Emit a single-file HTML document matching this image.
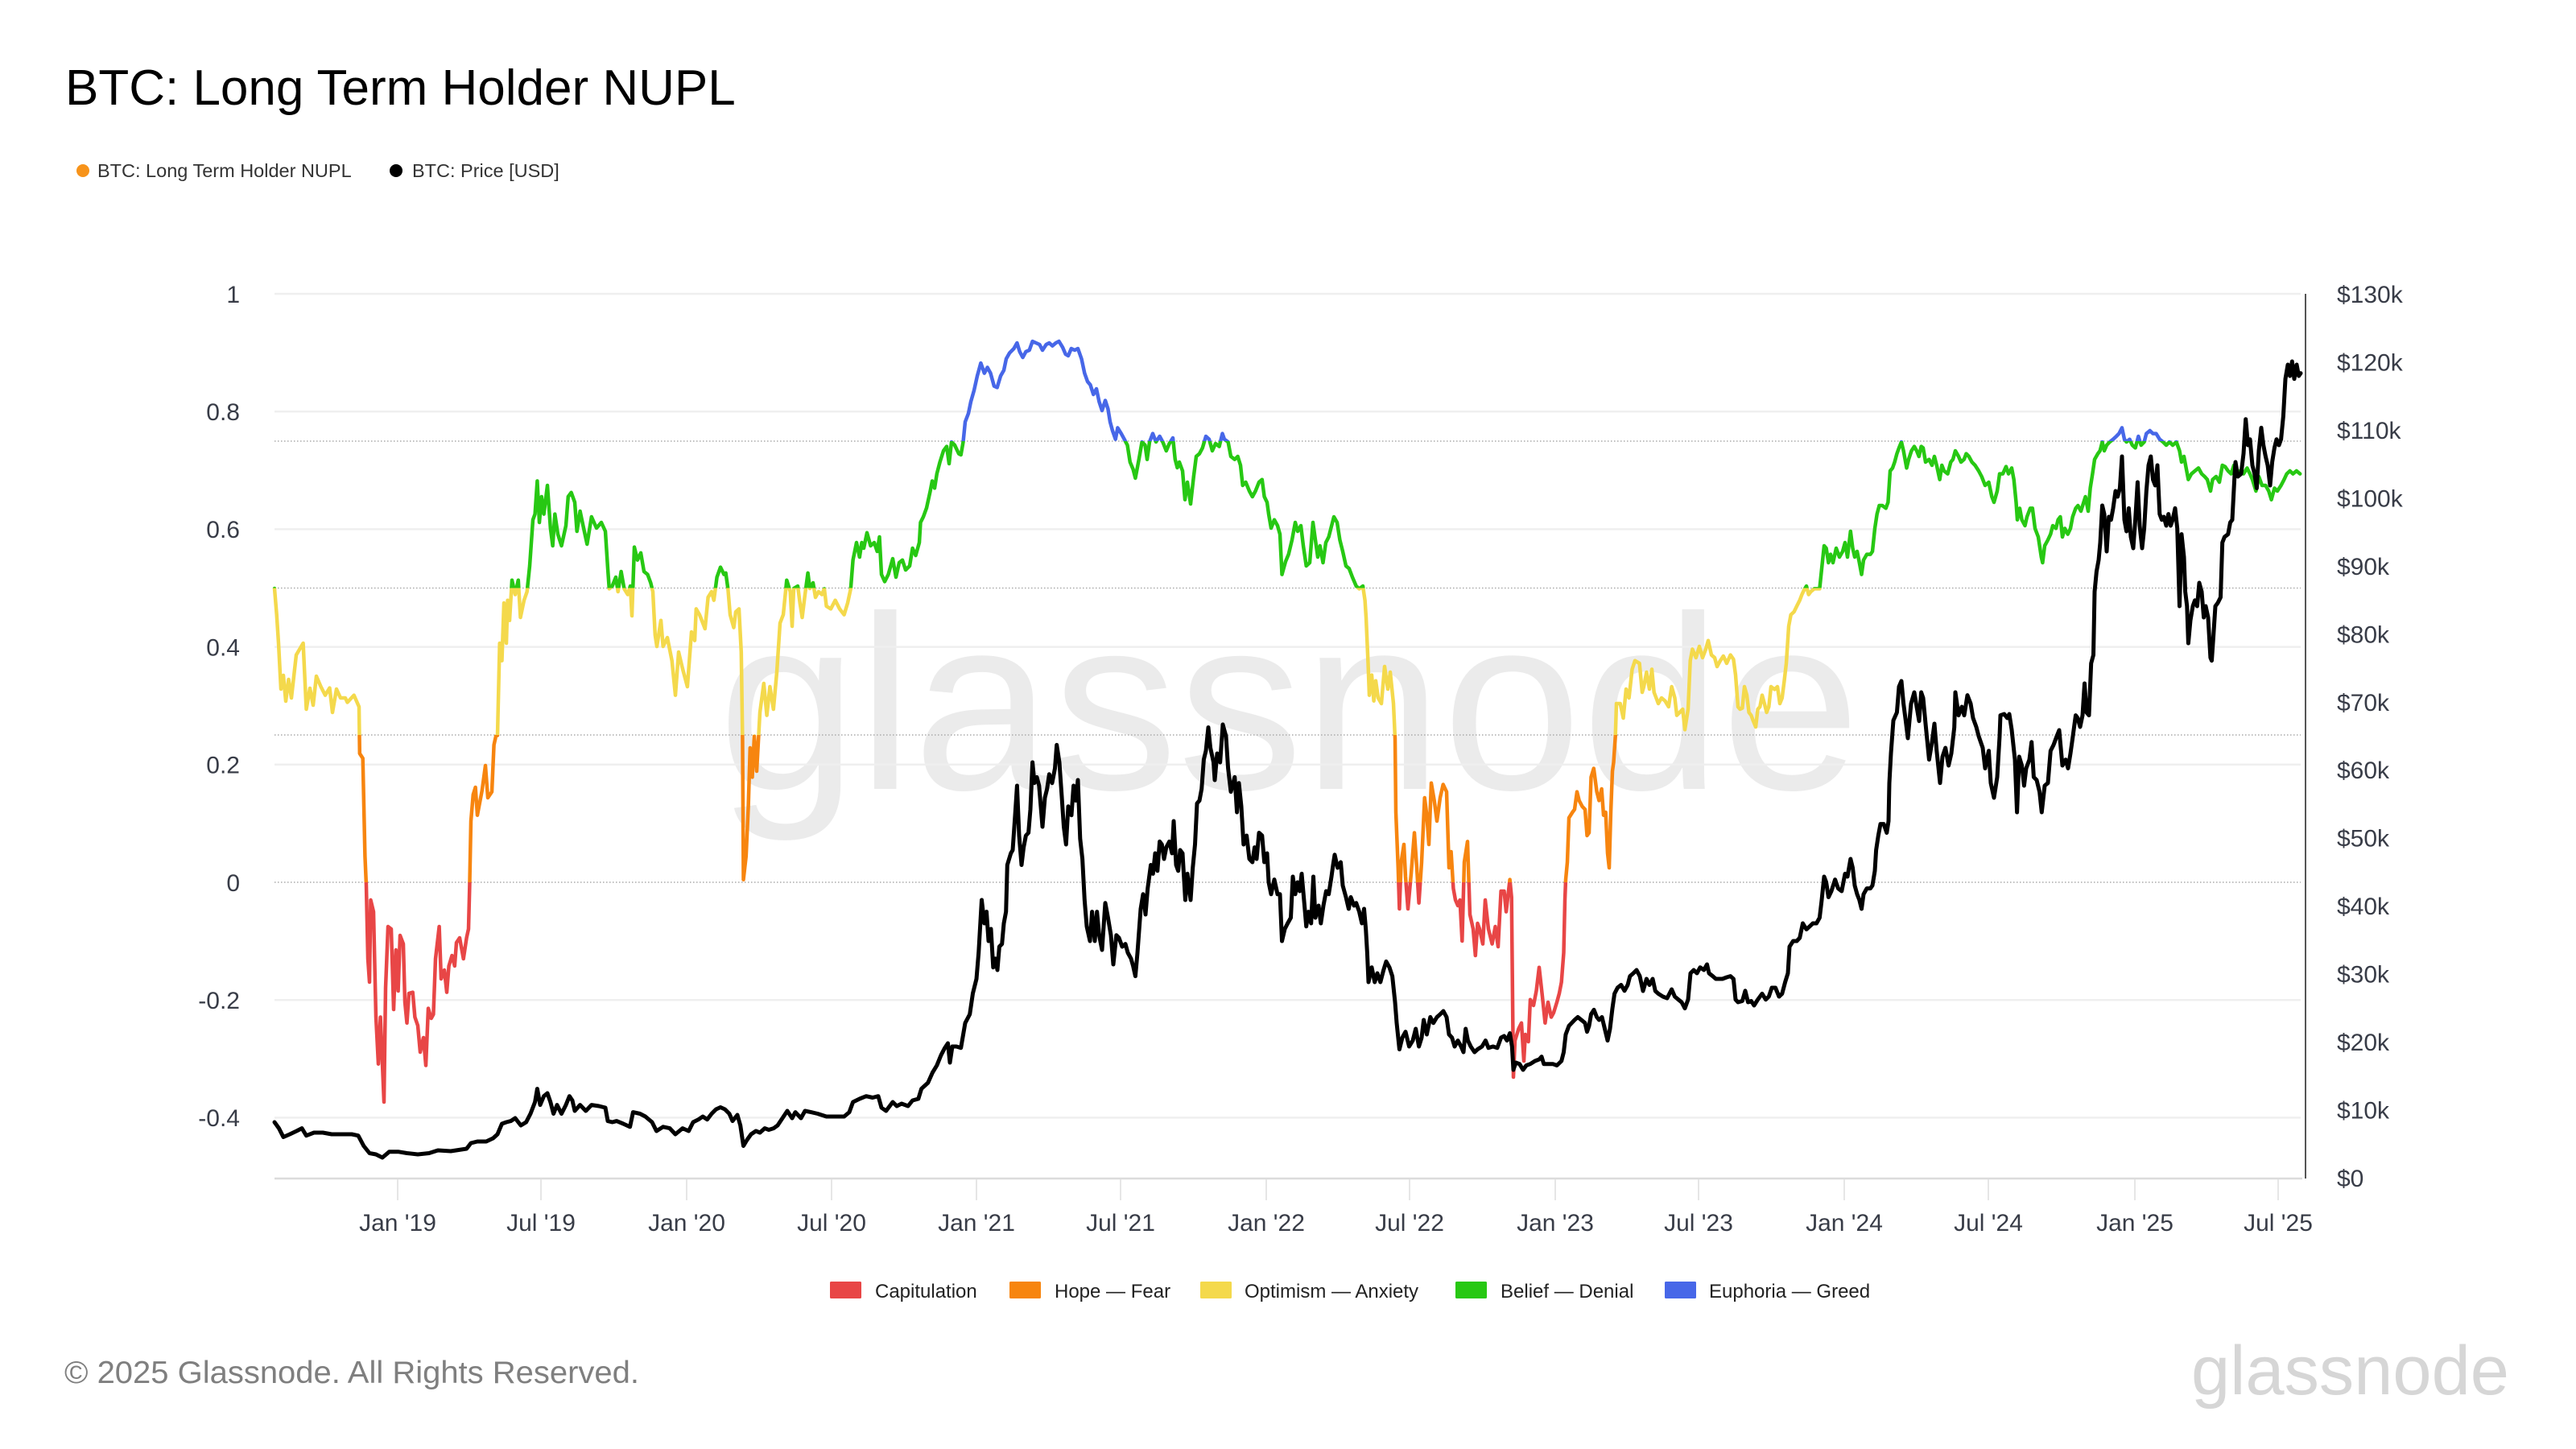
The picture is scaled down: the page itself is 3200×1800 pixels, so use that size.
<!DOCTYPE html>
<html><head><meta charset="utf-8"><style>
html,body{margin:0;padding:0;background:#fff;}
svg{display:block;}
text{font-family:"Liberation Sans",Arial,sans-serif;}
</style></head><body>
<svg width="3200" height="1800" viewBox="0 0 3200 1800" xmlns="http://www.w3.org/2000/svg">
<rect width="3200" height="1800" fill="#fff"/>
<defs>
<clipPath id="cBlue"><rect x="0" y="0" width="3200" height="548"/></clipPath>
<clipPath id="cGreen"><rect x="0" y="548" width="3200" height="182.5"/></clipPath>
<clipPath id="cYellow"><rect x="0" y="730.5" width="3200" height="182.5"/></clipPath>
<clipPath id="cOrange"><rect x="0" y="913" width="3200" height="183"/></clipPath>
<clipPath id="cRed"><rect x="0" y="1096" width="3200" height="704"/></clipPath>
<polyline id="nupl" fill="none" stroke-width="4.5" stroke-linejoin="round" stroke-linecap="round" points="341,731 343.7,763.6 346,799 349,856 352,839 355,871 358.5,844 362,867 368,813.6 376.6,799 380.5,881 385,855 389,876 393,840 398.6,853 404,863.6 409.5,854.6 413,885 418,856 423,867 429,867 431.5,872.5 439.7,863.6 446,878 446.5,914.5 446.8,936 450.7,942 453.4,1063.6 455,1100 457,1191 459,1220 460.5,1118 464,1132.6 467,1263.5 470,1321.7 472.6,1263.5 477,1369 479,1227 482,1151 486,1154 489,1254 491.8,1180 494.6,1231 497,1162 501,1172.6 503,1245 505.5,1270.8 508,1234 512.7,1232.6 515.4,1263.5 519,1274 522,1307 526,1289 529,1323.5 532,1252.6 535.7,1265 538.4,1260 541,1191 545.6,1151 548,1216 552,1205 555,1232.6 557.6,1200 561.5,1187 564.8,1200 567,1171 571,1165 575.7,1191 579.6,1165 582,1154 583.4,1100 585,1020 587.8,987 590.6,978 593,1012.7 598.8,982 603,951 606,991 611,983.6 613.6,925.4 616,914.5 618,913.6 620.7,799 623.5,820.7 626,749 629,799 630.6,745.7 633,770.7 636,720.7 640,738.6 643.8,720.7 646.5,767 651,745.7 654.7,735 658,703 662,645.7 664.6,638.6 667.4,597.5 670,649 672.8,617 675.6,638.6 680,603 683.8,656 686.6,678 689.3,638.6 693,663.6 697.5,678 703,653 705.8,617 709.6,611.8 714,624 716.7,660 720.6,635 725,656 729.3,676 734.8,642 741,656 747,649 752,660 755,706.4 756.8,731.4 760.6,728 765,717 767.7,735 771.6,710 775.4,731.4 779.8,738.6 783,728 785,765 788,679.6 791.9,695.7 796,686.8 800,710 804.5,713.6 808.3,724 811,735 813.8,788.6 816,803 821,770.7 823.7,803 829,792 834.7,820.7 839,863.6 843,810 848,831 853.9,853 859,785 863,795.7 864.8,756.4 869,763.6 875.8,781 879.6,742 884,735 886.8,745.7 890.6,717 895,704.6 899.4,713.6 901.6,711.8 904.3,731.4 907,763.6 911.5,779.6 914,760 918,756.4 920.8,810 922.4,917 923.5,1092.7 926.8,1063.6 929.6,1002 931.8,929 934.5,965.4 937,914.5 940,958 944,885 948.8,849 952.6,888.6 956.4,853 960.8,881 965,835 969,774 973,763.6 977.3,720.7 981.7,735 984,778 986,731 991,728 993.7,749 996.5,767 1000,738.6 1003.6,711.8 1006,731 1010,724 1013,742 1016.8,735 1021,738.6 1024,731.4 1026.6,753 1032,756.4 1037.6,745.7 1043,756.4 1048.6,763.6 1053,749 1056.8,731.4 1059.6,695.7 1064,674 1067.8,692 1070.5,674 1073,681 1077,661.8 1081.5,678 1086,674 1089.7,685 1092.5,667 1095,713.6 1099,722.5 1103.5,713.6 1109,694 1113,717 1117,699 1121,695.7 1125,708 1130,703 1133.6,681 1137.5,690 1142,674 1143.5,649 1147,642 1151,631 1155.6,610 1158,597.5 1161,606.4 1163.8,588.6 1167.6,574 1172,560 1176,554.6 1179,576 1182,549 1186,553 1191,563.6 1193.7,565 1196.5,549 1199,524 1203,513.6 1206,499 1210,485 1214,467 1218.4,451 1222.8,463.6 1226.6,456.4 1230.5,463.6 1234.9,479.6 1238.7,481.4 1243,467 1247,460 1250,445.7 1254,438.6 1259.5,433 1263.4,426 1266.7,436.8 1270.5,444 1274.4,436.8 1278.7,435 1282.6,424 1287,426 1291.4,428 1295,435 1299.6,428 1303.4,426 1307.3,429.6 1311.6,426 1315.5,424 1320,431.4 1323.7,440 1327,442 1330.8,433 1335,435 1339,433 1343.5,445.7 1347.3,463.6 1351,474 1354.4,478 1358.3,490 1362,483 1365.4,499 1369,510 1373,497.5 1376.4,508 1379,524 1382,535 1385.7,545.7 1388.4,531.4 1392.8,538.6 1396.7,545.7 1400.5,553 1403.8,574 1407.6,583 1410.4,594 1414.8,570.7 1418.6,549 1422.5,553 1425,570.7 1428,549 1432,538.6 1436,549 1440.6,542 1444.4,549 1448.8,560 1452.6,551 1457,544 1459.8,570.7 1462.5,581 1465,574 1469,585 1472,620.7 1475,599 1479,626 1482.8,592 1486,567 1490,563.6 1493.8,556.4 1498,542 1502,545.7 1506,560 1510,551 1514.6,554.6 1518.5,538.6 1521,545.7 1525.6,549 1529,567 1533.8,570.7 1537.6,567 1541,578 1543.7,603 1547.5,599 1552,610 1555.8,617 1559.6,610 1564,599 1567.8,595.7 1570.6,617 1574,624 1576,638.6 1579,656 1583,645.7 1587,653 1590,663.6 1592.5,713.6 1597,697.5 1600.7,688.6 1605,670.7 1609,649 1612,660 1616,653 1619,678 1622.7,703 1627,699 1631,649 1634,670.7 1637,692 1639.7,678 1643.5,699 1647,674 1650.6,667 1653.4,656 1657,642 1661,649 1664.4,670.7 1668,685 1672,703 1676,706.4 1680,717 1684.7,728 1688.5,731.4 1693,728 1695.6,745.7 1697,767 1699.5,824 1701,863.6 1704,838.6 1706.6,870.7 1709,845.7 1712,867 1716,874 1720,828 1724,856 1727,835 1731,874 1733,917 1734,1009 1736.8,1078 1738.4,1129 1740.6,1071 1744,1049 1746,1089 1749,1129 1753,1085 1757,1034.5 1760,1078 1762.6,1121.7 1766,1071 1769.7,991 1772.4,1012.7 1775,1049 1778,972.7 1781.7,994.5 1785,1020 1789,991 1792.7,974.5 1797,983.6 1800,1078 1802.6,1058 1805.4,1103.6 1808,1118 1811,1125 1813.6,1118 1816.3,1169 1819,1071 1823,1045.4 1826,1136 1830,1154 1832.8,1187 1835.5,1147 1838,1154 1842,1172.6 1845,1118 1849,1154 1853.6,1172.6 1857.5,1151 1861,1176 1864.6,1107 1868.5,1107 1871,1132.6 1875.6,1092.6 1877.7,1114.5 1880,1338 1882,1292.6 1886.5,1278 1890,1270.8 1893,1318 1894.8,1285 1898.6,1294 1901,1241.7 1905,1249 1908.5,1230.8 1912,1201.7 1916,1238 1919.4,1270.8 1923,1245 1927,1263.5 1930,1258 1934,1245 1937,1234 1939.7,1220 1942.5,1183.5 1944,1118 1945,1092.6 1947,1071 1949,1016 1953.4,1009 1956,1005.4 1959,983.6 1961.7,994.5 1965.5,1001.8 1969,1005.4 1971.5,1038 1974,1034.5 1976.5,965.4 1979.8,954.5 1983.6,983.6 1986.4,994.5 1989.6,980 1992,1012.7 1994.6,1009 1997,1060 1999,1078 2001,1009 2003,958 2004.5,947 2006.7,914.5 2008,874 2012.7,874 2016.5,892 2020,856 2023.6,867 2027.5,831.4 2031,820.7 2036.6,824 2040,860 2042,853 2045.4,835 2049,856 2052,831.4 2054.7,860 2057.4,867 2060,874 2064,867 2068.4,870.7 2072.8,878 2076.6,853 2080.5,867 2083,888.6 2086.5,885 2090.3,881 2093,906.4 2097,881 2099.7,820.7 2102.4,806.4 2106.8,817 2111,803 2115,817 2119,806.4 2122,795.7 2126,813.6 2130,817 2133,828 2137,820.7 2140.8,815 2145,824 2149.6,813.6 2153.4,819 2156,838.6 2159,878 2161.6,881 2164.4,879.6 2167,853 2170,863.6 2172.6,885 2175.4,888.6 2178,895.7 2181,903 2183.6,881 2186.3,878 2189,863.6 2191.8,874 2194.6,885 2197.3,878 2200,853 2204.4,856.4 2208,853 2211,874 2213.8,867 2216.5,845.7 2219,824 2222,778 2224.7,763.6 2228.6,760 2232,753 2235.7,745.7 2238.4,738.6 2241,733 2244,728 2246.7,738.6 2249.4,735 2253.8,731.4 2257.6,731.4 2260.4,731.4 2263,706.4 2266,678 2268.6,681 2271.4,699 2274,688.6 2277,699 2281,681 2285,692 2289,685 2292,674 2295,692 2298.8,660 2301.5,681 2304,692 2307,685 2309.8,699 2312.5,713.6 2315,695.7 2319,688.6 2323.5,688.6 2326,685 2329,656.4 2331.7,638.6 2334.5,628 2338.3,628 2342.7,631.4 2345.4,624 2348,585 2351,581.4 2353.6,574 2356.4,563.6 2359,556.4 2362,549 2364.6,560 2368.5,581.4 2371,570.7 2374.5,560 2378,554.6 2381,560 2383.8,567 2386.6,554.6 2389,556.4 2392,574 2396.4,570.7 2400,578 2403,567 2405.8,578 2409.6,595.7 2412.3,578 2415,585 2419.5,588.6 2423.3,574 2426,570.7 2429,560 2433,567 2436,574 2439.8,570.7 2442.5,563.6 2445.8,567 2449.6,574 2453.5,578 2458,585 2461.7,592 2466,603 2470.5,599 2474.3,617 2477,624 2481,610 2484,588.6 2488,588.6 2492,579.6 2495,588.6 2499,581.4 2501.7,595.7 2504.5,624 2506,645.7 2509,631.4 2511.6,645.7 2515.5,653 2518,642 2522,631.4 2524.8,631.4 2528,656.4 2532,667 2535.8,692 2537.4,699 2540,678 2544,670.7 2547.3,663.6 2550,653 2554,656.4 2556.6,645.7 2559.4,642 2562,667 2565,656.4 2568.7,663.6 2572,656.4 2574.7,642 2578.5,631.4 2581.3,628 2585,635 2588.4,624 2590.6,617 2594,635 2596.6,606.4 2599.4,588.6 2602,570.7 2606,563.6 2608.7,560 2611.5,549 2614,560 2617,553 2620.8,549 2625,545.7 2629,542 2632.3,538.6 2636,531.4 2639,545.7 2641.6,549 2645.5,545.7 2648.8,553 2652.6,556.4 2656.4,542 2659.7,553 2663.6,549 2666.3,538.6 2670.7,535 2674.5,538.6 2678.4,538.6 2682.8,545.7 2687,549 2691,553 2695,549 2699,553 2703.6,549 2707.5,560 2710,574 2713,567 2715.7,581.4 2718.4,595.7 2722.3,588.6 2726.6,585 2731,581.4 2735,588.6 2738.7,592 2742,595.7 2746,610 2748.6,595.7 2753,592 2757,599 2760.7,578 2764,579.6 2767.8,585 2771.6,588.6 2775,578 2778.8,588.6 2782.6,585 2787,588.6 2791.4,581.4 2795,588.6 2798,595.7 2802.4,610 2806,592 2810,603 2814.4,603 2818.3,610 2821.6,620.7 2825.4,606.4 2829,610 2833.6,603 2837.4,595.7 2840.7,588.6 2844.6,585 2848.4,588.6 2852.8,585 2857.2,588.6"/>
</defs>

<!-- Title -->
<text x="81" y="130" font-size="62" fill="#000">BTC: Long Term Holder NUPL</text>

<!-- Top legend -->
<circle cx="103" cy="212" r="8" fill="#f7931a"/>
<text x="121" y="220" font-size="23.5" fill="#333">BTC: Long Term Holder NUPL</text>
<circle cx="492" cy="212" r="8" fill="#000"/>
<text x="512" y="220" font-size="23.5" fill="#333">BTC: Price [USD]</text>

<!-- Watermark -->
<text x="892" y="980" font-size="308" textLength="1419" lengthAdjust="spacingAndGlyphs" fill="#000" fill-opacity="0.08">glassnode</text>

<!-- Gridlines -->
<g stroke="#efefef" stroke-width="2.5">
<line x1="341" y1="365" x2="2858" y2="365"/>
<line x1="341" y1="511.2" x2="2858" y2="511.2"/>
<line x1="341" y1="657.4" x2="2858" y2="657.4"/>
<line x1="341" y1="803.6" x2="2858" y2="803.6"/>
<line x1="341" y1="949.8" x2="2858" y2="949.8"/>
<line x1="341" y1="1242.2" x2="2858" y2="1242.2"/>
<line x1="341" y1="1388.4" x2="2858" y2="1388.4"/>
</g>
<g stroke="#aaaaaa" stroke-width="1.5" stroke-dasharray="1.5 2.5">
<line x1="341" y1="548" x2="2858" y2="548"/>
<line x1="341" y1="730.5" x2="2858" y2="730.5"/>
<line x1="341" y1="913" x2="2858" y2="913"/>
<line x1="341" y1="1096" x2="2858" y2="1096"/>
</g>

<!-- X axis line and ticks -->
<line x1="341" y1="1464" x2="2860" y2="1464" stroke="#dcdcdc" stroke-width="2.5"/>
<g stroke="#e6e6e6" stroke-width="2">
<line x1="494" y1="1465" x2="494" y2="1491"/>
<line x1="672" y1="1465" x2="672" y2="1491"/>
<line x1="853" y1="1465" x2="853" y2="1491"/>
<line x1="1033" y1="1465" x2="1033" y2="1491"/>
<line x1="1213" y1="1465" x2="1213" y2="1491"/>
<line x1="1392" y1="1465" x2="1392" y2="1491"/>
<line x1="1573" y1="1465" x2="1573" y2="1491"/>
<line x1="1751" y1="1465" x2="1751" y2="1491"/>
<line x1="1932" y1="1465" x2="1932" y2="1491"/>
<line x1="2110" y1="1465" x2="2110" y2="1491"/>
<line x1="2291" y1="1465" x2="2291" y2="1491"/>
<line x1="2470" y1="1465" x2="2470" y2="1491"/>
<line x1="2652" y1="1465" x2="2652" y2="1491"/>
<line x1="2830" y1="1465" x2="2830" y2="1491"/>
</g>
<!-- Right axis line -->
<line x1="2864" y1="365" x2="2864" y2="1464" stroke="#555" stroke-width="2"/>

<!-- X labels -->
<g font-size="30" fill="#383c47" text-anchor="middle">
<text x="494" y="1529">Jan '19</text>
<text x="672" y="1529">Jul '19</text>
<text x="853" y="1529">Jan '20</text>
<text x="1033" y="1529">Jul '20</text>
<text x="1213" y="1529">Jan '21</text>
<text x="1392" y="1529">Jul '21</text>
<text x="1573" y="1529">Jan '22</text>
<text x="1751" y="1529">Jul '22</text>
<text x="1932" y="1529">Jan '23</text>
<text x="2110" y="1529">Jul '23</text>
<text x="2291" y="1529">Jan '24</text>
<text x="2470" y="1529">Jul '24</text>
<text x="2652" y="1529">Jan '25</text>
<text x="2830" y="1529">Jul '25</text>
</g>

<!-- Left labels -->
<g font-size="30" fill="#383c47" text-anchor="end">
<text x="298" y="376">1</text>
<text x="298" y="522">0.8</text>
<text x="298" y="668">0.6</text>
<text x="298" y="814.5">0.4</text>
<text x="298" y="960.5">0.2</text>
<text x="298" y="1107">0</text>
<text x="298" y="1253">-0.2</text>
<text x="298" y="1399">-0.4</text>
</g>

<!-- Right labels -->
<g font-size="30" fill="#383c47">
<text x="2903" y="376">$130k</text>
<text x="2903" y="460.5">$120k</text>
<text x="2903" y="545">$110k</text>
<text x="2903" y="629.4">$100k</text>
<text x="2903" y="714">$90k</text>
<text x="2903" y="798.3">$80k</text>
<text x="2903" y="882.8">$70k</text>
<text x="2903" y="967">$60k</text>
<text x="2903" y="1051.7">$50k</text>
<text x="2903" y="1136">$40k</text>
<text x="2903" y="1220.6">$30k</text>
<text x="2903" y="1305">$20k</text>
<text x="2903" y="1389.5">$10k</text>
<text x="2903" y="1474">$0</text>
</g>

<!-- NUPL series colored by band -->
<use href="#nupl" stroke="#4767e8" clip-path="url(#cBlue)"/>
<use href="#nupl" stroke="#27c813" clip-path="url(#cGreen)"/>
<use href="#nupl" stroke="#f4d94c" clip-path="url(#cYellow)"/>
<use href="#nupl" stroke="#f7850f" clip-path="url(#cOrange)"/>
<use href="#nupl" stroke="#e84646" clip-path="url(#cRed)"/>

<!-- Price series -->
<polyline fill="none" stroke="#000" stroke-width="5" stroke-linejoin="round" stroke-linecap="round" points="341,1394 346.5,1401.6 352,1412.5 360,1409 368.4,1405 375,1401.6 380.5,1410.7 390,1407 401,1407 412,1409 423,1409 437,1409 445,1410.7 451.8,1423.5 459,1432.5 467,1434 475,1438 483.6,1430.7 494.6,1430.7 505.5,1432.5 519,1434 533,1432.5 544,1429 560,1430 579.6,1427 585,1420 593,1418 604,1418 612.5,1414 618,1409 623.5,1396 629,1394 634.5,1392.6 640,1389 647,1398 653.6,1394 659,1383.5 664.6,1369 667.4,1352.6 671,1372.6 675.6,1361.7 680,1358 683.8,1369 687.6,1383.5 692,1372.6 697.5,1383.5 703,1372.6 707.4,1361.7 711,1367 714,1380 720.6,1372.6 727.7,1380 734.8,1372.6 744,1374 752,1376 755,1392.6 760.6,1394 766,1392.6 774.3,1396 782.6,1399.8 786.4,1381.6 795,1383.5 801.7,1387 810,1394 815.5,1405 823.7,1399.8 832,1401.6 839,1409 848,1401.6 855.5,1405 861,1394 867.6,1390.7 873,1387 878.5,1390.7 884,1383.5 889.5,1378 895,1375.5 900.5,1378 906,1383.5 910,1392.6 916,1385 919.7,1398 923.5,1423.5 928,1416 933,1409 939,1405 944,1407 950,1401.6 955,1403.5 961,1401.6 966,1398 972,1389 978,1380 984,1389 988,1381.6 995,1389 1000,1380 1007.5,1381.6 1015.7,1383.5 1026.6,1387 1037.6,1387 1048.6,1387 1055,1381.6 1059.6,1369 1067.8,1365 1076,1361.7 1084,1363.5 1091,1361.7 1095,1376 1100.7,1380 1109,1369 1114,1374 1120,1371 1128,1374 1133.6,1367 1140.8,1365 1144.6,1352.6 1152.8,1345 1158.3,1332.6 1163.8,1323.5 1169,1310.7 1173.7,1301.7 1177.5,1296 1180,1320 1183,1300 1188,1300 1193.7,1301.7 1199,1270.8 1204.7,1260 1208.5,1234 1213,1216 1215.7,1183.5 1219.5,1118 1222.8,1147 1225.5,1132.6 1228,1169 1231,1154 1233.8,1201.7 1236.5,1190.8 1239,1205 1241.4,1176 1244.7,1172.6 1247,1147 1249.7,1132.6 1251.3,1074.5 1255.7,1060 1258,1056 1261,1012.7 1263.4,976 1266,1038 1269,1074.5 1271.6,1052.6 1274.4,1038 1277.6,1034.5 1280,1005.4 1282.6,947 1285,972.7 1288,965.4 1290.8,976 1295,1027 1298,991 1300.7,980 1303.4,961.8 1307,972.7 1310.5,954.5 1312.7,925.4 1316,947 1318.8,987 1321.5,1027 1324.3,1049 1327,1001.8 1331,1012.7 1333.6,976 1336.3,994.5 1339,969 1341.8,1041.8 1344.6,1067 1347.3,1118 1350,1150.8 1354,1169 1356.6,1132.6 1360,1169 1362.7,1132.6 1365.4,1161.7 1369,1180 1373,1121.7 1376.4,1140 1380,1161.7 1383,1198 1386.8,1161.7 1390,1165 1394,1176 1398,1172.6 1401,1183.5 1405,1190.8 1407.6,1200 1410.4,1212.6 1413,1183.5 1417,1129 1420,1110.8 1423,1136 1425.7,1103.6 1429.6,1074.5 1432.3,1085.4 1435,1060 1437.8,1081.8 1440.6,1045.4 1443.3,1049 1446,1067 1448.8,1052.6 1452.6,1045.4 1456,1060 1458,1020 1461,1074.5 1463.6,1081.8 1466,1056 1469,1060 1472.4,1118 1475,1085.4 1479,1118 1481.7,1078 1484.5,1049 1487,998 1490,994.5 1492.7,980 1495.4,943.6 1498,932.7 1501,903.6 1503.6,929 1507.5,947 1509,969 1512,936 1515.7,947 1519,900 1523,914.5 1525.6,954.5 1529,983.6 1533.8,965.4 1536.6,1009 1539,972.7 1542,1001.8 1544.8,1049 1548.6,1038 1552,1067 1555.8,1071 1558.5,1052.6 1561,1067 1564,1034.5 1567.8,1038 1570.6,1071 1574,1060 1576,1096 1579,1110.8 1583,1092.6 1587,1110.8 1590,1110.8 1592.5,1169 1596,1154 1599.6,1147 1603.5,1140 1606,1089 1609,1110.8 1611.7,1096 1614.5,1107 1617,1085.4 1620.5,1125 1622.7,1150.8 1625.4,1132.6 1628.7,1147 1631.5,1089 1634,1140 1638,1125 1640.8,1147 1644,1125 1647.4,1107 1650.6,1110.8 1654,1089 1656,1074.5 1658,1061.8 1661.6,1078 1665.5,1071 1668,1100 1672,1114.5 1675.4,1129 1678,1114.5 1682,1125 1684.7,1121.7 1688.5,1132.6 1691.8,1147 1694.5,1129 1696.7,1154.5 1698.4,1183.5 1700,1220 1704,1201.7 1707.7,1220 1711,1209 1714.8,1220 1718.7,1205 1722,1194.4 1726,1201.7 1729.6,1212.6 1733,1245 1735,1270.8 1738.4,1303.5 1742,1289 1746,1281.7 1750.5,1300 1755,1292.6 1758.7,1278 1762.6,1300 1766,1289 1768.6,1267 1772.4,1285 1776.8,1263.5 1780.6,1270.8 1785,1263.5 1789,1260 1793,1256 1797,1263.5 1800,1285 1803.7,1289 1807,1300 1811,1292.6 1815,1300 1818,1307 1820.7,1278 1823.5,1292.6 1827,1300 1831.7,1307 1835.5,1303.5 1841,1300 1845.4,1292.6 1849,1301.7 1854.7,1300 1860,1301.7 1864.6,1289 1868.5,1287 1872,1292.6 1875.6,1283.5 1878.3,1300 1880,1329 1883,1320 1887.6,1321.7 1892,1329 1896,1323.5 1901,1321.7 1906.8,1318 1912,1316 1915,1312.6 1917.8,1321.7 1923,1321.7 1929,1321.7 1934,1323.5 1939.7,1318 1942.5,1307 1945,1285 1949,1274.4 1952.4,1270.8 1956,1267 1960,1263.5 1964.4,1267 1969,1270.8 1971.5,1281.7 1974,1274.4 1976.5,1260 1980,1254.4 1983.6,1263.5 1986.4,1267 1990,1263.5 1993.5,1278 1997,1292.6 2000,1278 2003,1252.6 2005.6,1234.4 2009.4,1227 2013.8,1223.5 2018,1230.8 2022,1223.5 2024.8,1212.6 2029,1209 2033,1205 2037,1212.6 2041,1231 2045.4,1216 2049,1223.5 2053,1216 2056.3,1231 2060,1234.4 2065.7,1238 2071,1240 2076.6,1229 2080.5,1238 2084.9,1241.7 2089,1245 2093,1252.6 2097,1241.7 2100,1209 2104,1205 2108,1209 2112,1201.7 2116.7,1205 2120.5,1198 2123,1209 2127.6,1212.6 2131.5,1216 2135,1216 2139.7,1216 2145,1214 2149.6,1212.6 2153.4,1216 2156,1241.7 2159,1245 2164.4,1243.5 2168,1230.8 2171.5,1245 2175.4,1243.5 2179,1249 2183.6,1241.7 2189,1234.4 2193.5,1241.7 2197.3,1238 2201,1227 2205.5,1227 2210,1238 2213.8,1234.4 2217.6,1220 2221,1209 2223,1176 2227.5,1169 2232,1169 2235.7,1165 2239.5,1147 2244,1154.5 2248,1150.8 2252,1147 2256.5,1147 2260.4,1140 2263,1118 2266,1089 2268.6,1096 2271.4,1114.5 2275,1107 2279.6,1092.6 2283.4,1103.6 2287.8,1107 2292,1085.4 2295,1089 2298.8,1067 2301.5,1078 2304,1100 2307,1110.8 2309.8,1118 2312.5,1129 2315,1110.8 2319,1103.6 2323.5,1103.6 2326,1100 2329,1081.8 2330.6,1056 2333.3,1038 2336,1023.6 2340,1023.6 2343.8,1034.5 2346,1020 2347,972.7 2349,936 2352,895 2356.4,885 2359,853 2362,846 2364.6,874 2367.4,895.7 2370,917 2374,874 2378,860 2381,878 2384,895.7 2386.6,860 2389,867 2392,899 2396.4,943.6 2400,921.8 2403,899 2405.8,932.7 2410,972.7 2413,940 2416.7,929 2420.6,951 2424,936 2427.7,903.6 2429,860 2433,888.6 2437,878 2440,888.6 2444,863.6 2448,874 2451,892 2455,903 2458,914.5 2463,929 2466,954.5 2470.5,932.7 2473,972.7 2477,991 2481,965.4 2484,914.5 2485,888.6 2489.7,887 2493.5,892 2496,887 2499,906.4 2503,943.6 2505.6,1009 2508.3,940 2511.6,951 2514.4,976 2517,954.5 2521,943.6 2523.7,921.8 2526.4,965.4 2530,969 2533.6,983.6 2536.3,1009 2540,976 2544,972.7 2547.3,932.7 2551,925.4 2555,914.5 2558,907 2562,951 2566,943.6 2569,954.5 2572,936 2574,921.8 2578.5,888.6 2581,892 2584,903 2587,888.6 2589.5,849 2592,885 2595,888.6 2597.7,824 2600.5,813.6 2602,735 2604.4,710 2607,695.7 2609,674 2611.5,628 2614,638.6 2617,685 2619.7,642 2622.4,645.7 2625,631.4 2628,610 2630.6,617 2633.4,606.4 2636,567 2639,645.7 2641.6,660 2644.4,631.4 2647,667 2650,681 2652.6,645.7 2655.4,599 2658,653 2661,681 2663.6,656.4 2666.3,610 2669,578 2671.8,567 2674.5,595.7 2677.3,603 2680,578 2682.8,638.6 2685.5,645.7 2688,642 2691,653 2693.7,638.6 2696.5,653 2699,645.7 2702,631.4 2704.7,656.4 2707.5,753 2710,663.6 2713,692 2714.6,735 2716.8,753 2718.4,799 2721,770.7 2724,753 2726.6,745.7 2729.4,753 2732,724 2735,735 2737.6,767 2740,753 2743,767 2745.9,817 2747.5,820.7 2749.7,788.6 2752,753 2755,749 2758.5,742 2760.7,674 2763.4,667 2767.8,663.6 2770.5,649 2773,645.7 2776,588.6 2777,574 2780,592 2784,588.6 2787,563.6 2789.7,520.7 2792.5,553 2795,545.7 2798,578 2800.7,588.6 2803.4,606.4 2806,560 2809,531.4 2811.7,553 2814.4,567 2817,578 2820,603 2822.6,574 2825.4,556.4 2828,545.7 2831,553 2833.6,545.7 2836.4,517 2839,470.7 2842,453 2844.6,467 2847.3,449 2850,470.7 2853,453 2855.6,467 2858,463.6"/>

<!-- Bottom legend -->
<g font-size="24" fill="#222">
<rect x="1031" y="1592" width="39" height="21" rx="1.5" fill="#e84646"/>
<text x="1087" y="1612">Capitulation</text>
<rect x="1254" y="1592" width="39" height="21" rx="1.5" fill="#f7850f"/>
<text x="1310" y="1612">Hope — Fear</text>
<rect x="1491" y="1592" width="39" height="21" rx="1.5" fill="#f4d94c"/>
<text x="1546" y="1612">Optimism — Anxiety</text>
<rect x="1808" y="1592" width="39" height="21" rx="1.5" fill="#27c813"/>
<text x="1864" y="1612">Belief — Denial</text>
<rect x="2068" y="1592" width="39" height="21" rx="1.5" fill="#4767e8"/>
<text x="2123" y="1612">Euphoria — Greed</text>
</g>

<!-- Footer -->
<text x="80" y="1718" font-size="39" fill="#7f7f7f" textLength="714" lengthAdjust="spacingAndGlyphs">© 2025 Glassnode. All Rights Reserved.</text>
<text x="2722" y="1732" font-size="86" fill="#d6d6d6" textLength="395" lengthAdjust="spacingAndGlyphs">glassnode</text>
</svg>
</body></html>
